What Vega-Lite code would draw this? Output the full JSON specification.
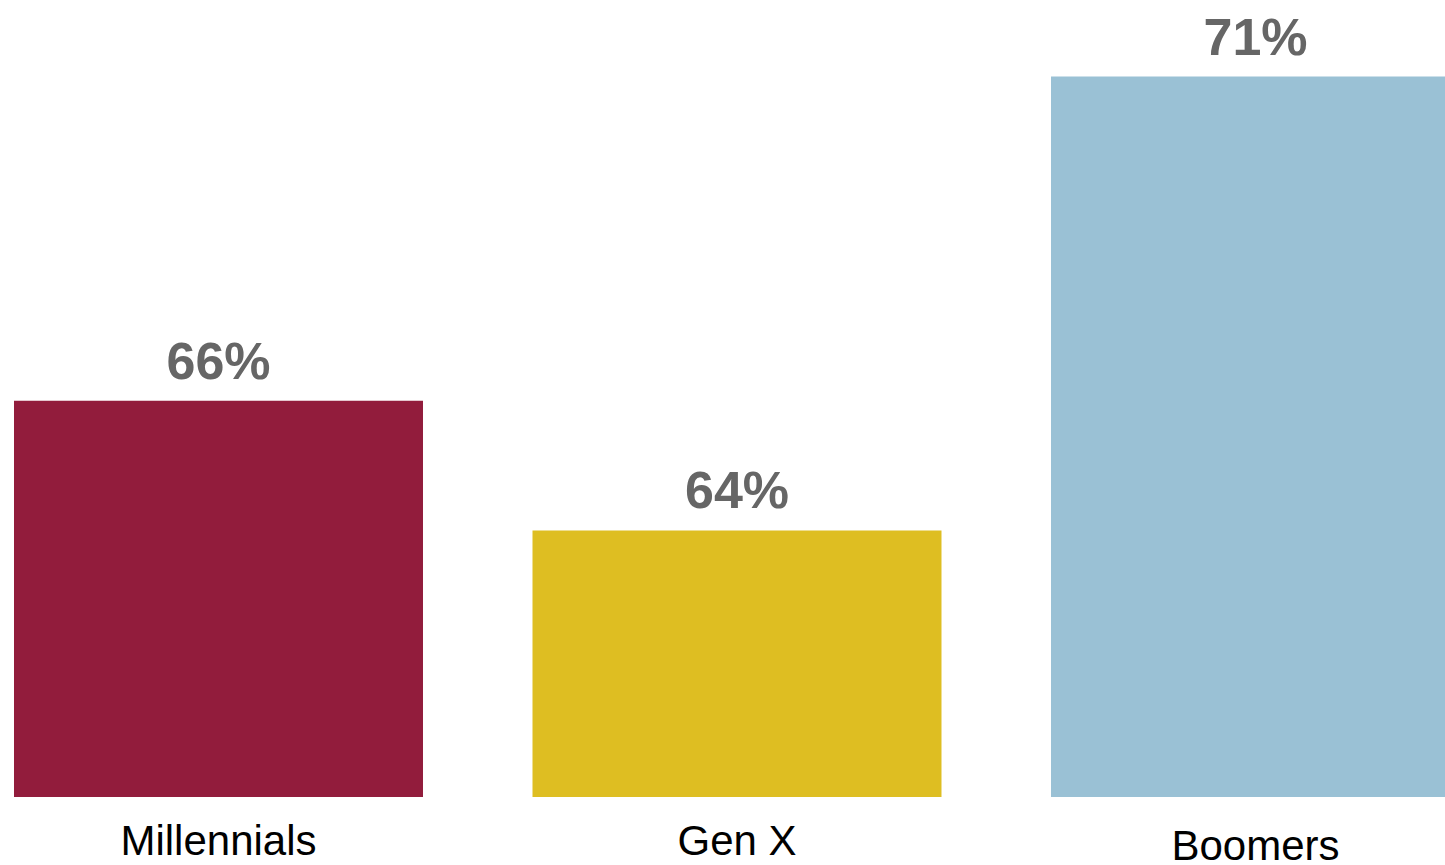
{
  "$schema": "https://vega.github.io/schema/vega-lite/v6.json",
  "width": 1445,
  "height": 797,
  "autosize": {"type": "none"},
  "padding": {"left": 0, "top": 0, "right": 0, "bottom": 68},
  "background": "white",
  "config": {"view": {"stroke": null}, "font": "Liberation Sans"},
  "data": {
    "values": [
      {"generation": "Millennials", "share": 66, "label": "66%"},
      {"generation": "Gen X", "share": 64, "label": "64%"},
      {"generation": "Boomers", "share": 71, "label": "71%"}
    ]
  },
  "encoding": {
    "x": {
      "field": "generation",
      "type": "nominal",
      "sort": null,
      "scale": {"range": [0, 1474], "paddingInner": 0.2112, "paddingOuter": 0.027},
      "axis": {
        "title": null,
        "domain": false,
        "ticks": false,
        "labelAngle": 0,
        "labelLimit": 0,
        "labelFont": "Liberation Sans",
        "labelFontSize": 42,
        "labelColor": "#000000",
        "labelPadding": {"condition": {"test": "datum.value === 'Boomers'", "value": 29}, "value": 24}
      }
    },
    "y": {
      "field": "share",
      "type": "quantitative",
      "scale": {"domain": [59.89, 72.18], "zero": false, "nice": false},
      "axis": null
    }
  },
  "layer": [
    {
      "mark": {"type": "bar", "clip": true},
      "encoding": {
        "color": {
          "field": "generation",
          "type": "nominal",
          "scale": {"domain": ["Millennials", "Gen X", "Boomers"], "range": ["#921C3C", "#DEBE22", "#9AC1D5"]},
          "legend": null
        }
      }
    },
    {
      "mark": {"type": "text", "dy": -22, "baseline": "alphabetic", "font": "Liberation Sans", "fontWeight": "bold", "fontSize": 52, "color": "#666666"},
      "encoding": {"text": {"field": "label"}}
    }
  ]
}
